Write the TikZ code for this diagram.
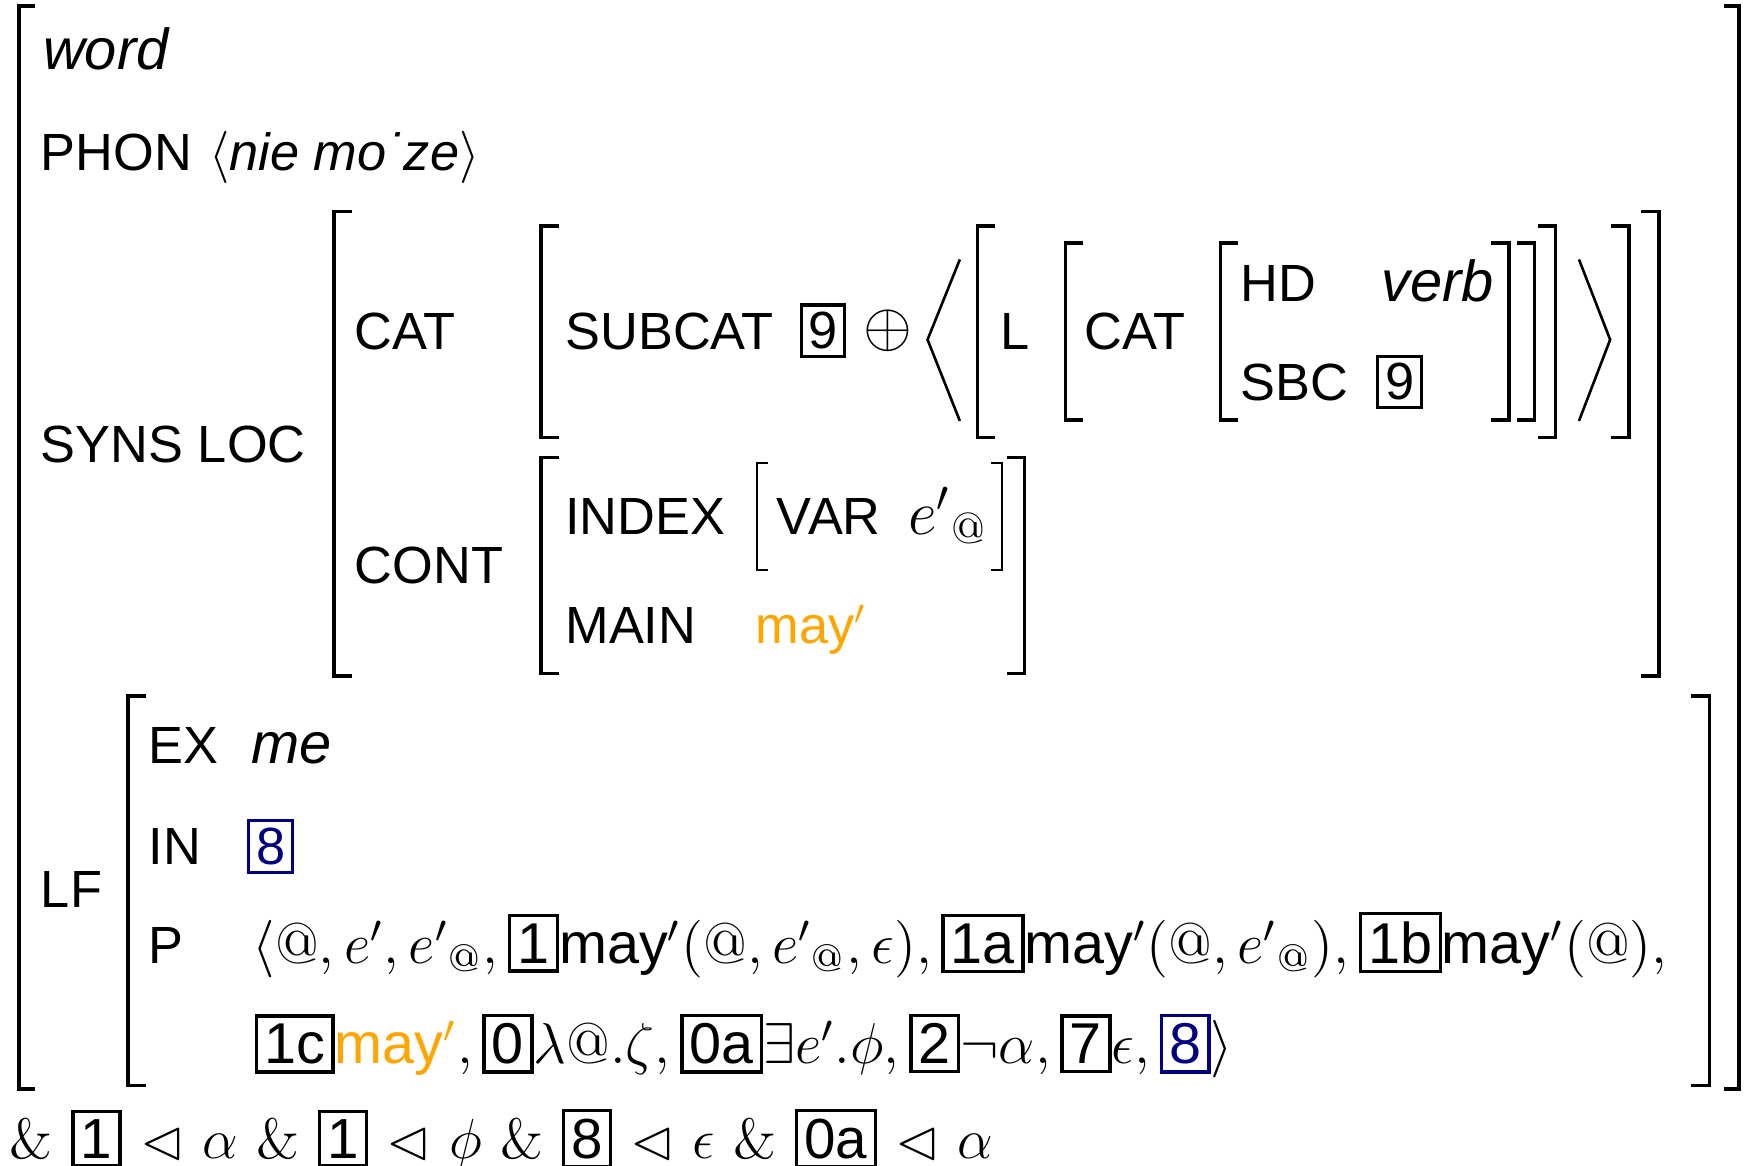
\documentclass[tikz,border=0pt]{standalone}
\usepackage{amssymb}
\usepackage{fontspec}
\setsansfont{Liberation Sans}

\definecolor{mayorange}{HTML}{FFA500}
\definecolor{tagnavy}{HTML}{000080}

% boxed structure-sharing tag
\newcommand{\tagbox}[2][black]{{\setlength{\fboxsep}{1.3pt}\setlength{\fboxrule}{0.7pt}\color{#1}\fbox{\sffamily #2}}}
\newcommand{\may}{\mbox{may}}

\begin{document}
\begin{tikzpicture}[x=0.2553pt, y=-0.2553pt,
    feat/.style={anchor=base west, inner sep=0pt, font=\sffamily\fontsize{12}{14}\selectfont},
    val/.style={anchor=base west, inner sep=0pt, font=\sffamily\itshape\fontsize{13.25}{16}\selectfont},
    form/.style={feat, scale=1.1, transform shape},
    brk/.style={line width=0.8pt},
    thinbrk/.style={line width=0.5pt}]
    \useasboundingbox (0,0) rectangle (1568,1047);
    %% Brackets
    \draw[line width=0.9pt] (31,5) -| (17,978) -- (31,978);
    \draw[line width=0.9pt] (1548,5) -| (1562,978) -- (1548,978);
    \foreach \x/\t/\b in {300/190/607, 486/203/393, 878/203/393, 957/218/377,
                          1096/218/377, 486/411/605, 115/625/975} {
        \draw[brk] (\x+16,\t) -| (\x,\b) -- (\x+16,\b);
    }
    \foreach \x/\t/\b in {1490/190/607, 1463/203/393, 1397/203/393, 1378/218/377,
                          1355/218/377, 920/411/605, 1535/625/975} {
        \draw[brk] (\x-16,\t) -| (\x,\b) -- (\x-16,\b);
    }
    \draw[thinbrk] (690,416) -| (680,512) -- (690,512);
    \draw[thinbrk] (890,416) -| (900,512) -- (890,512);
    %% Angles round the list
    \draw[line width=0.6pt] (862,233) -- (833,305) -- (862,378);
    \draw[line width=0.6pt] (1418,233) -- (1446,305) -- (1418,378);
    %% Top
    \node[val] (word) at (38,62) {word};
    \node[feat] (phon) at (36,153) {PHON};
    \node[feat] (phonval) at (187,153) {$\langle$\textit{nie mo˙ze}$\rangle$};
    %% SYNS LOC
    \node[feat] (synsloc) at (36,415) {SYNS LOC};
    \node[feat] (cat) at (318,314) {CAT};
    \node[feat] (cont) at (318,524) {CONT};
    \node[feat] (subcat) at (507,314) {SUBCAT};
    \node[feat, anchor=center] (subtag) at (739,297) {\tagbox{9}};
    \node[feat, anchor=center, font=\fontsize{14.4}{17}\selectfont] (plus) at (797,297) {$\oplus$};
    \node[feat] (l) at (898,314) {L};
    \node[feat] (lcat) at (973,314) {CAT};
    \node[feat] (hd) at (1113,271) {HD};
    \node[val] (verb) at (1240,271) {verb};
    \node[feat] (sbc) at (1113,360) {SBC};
    \node[feat, anchor=center] (sbctag) at (1257,343) {\tagbox{9}};
    \node[feat] (index) at (507,480) {INDEX};
    \node[feat] (var) at (697,480) {VAR};
    \node[feat, font=\fontsize{14.4}{17}\selectfont] (varval) at (815,480) {${e'}_{@}$};
    \node[feat] (main) at (507,578) {MAIN};
    \node[feat, text=mayorange] (mainval) at (678,578) {\may$'$};
    %% LF
    \node[feat] (lf) at (36,815) {LF};
    \node[feat] (ex) at (133,686) {EX};
    \node[val] (exval) at (225,686) {me};
    \node[feat] (infeat) at (133,776) {IN};
    \node[feat, anchor=center] (intag) at (243,760) {\tagbox[tagnavy]{8}};
    \node[feat] (p) at (133,865) {P};
    \node[form] (prow1) at (226,865) {$\langle @, e', {e'}_{@}, \tagbox{1}\may'(@, {e'}_{@}, \epsilon), \tagbox{1a}\may'(@, {e'}_{@}), \tagbox{1b}\may'(@),$};
    \node[form] (prow2) at (228,955) {$\tagbox{1c}\textcolor{mayorange}{\may'}, \tagbox{0}\lambda @.\zeta, \tagbox{0a}\exists e'.\phi, \tagbox{2}\neg\alpha, \tagbox{7}\epsilon, \tagbox[tagnavy]{8}\rangle$};
    %% Constraints
    \node[anchor=base west, inner sep=0pt, font=\fontsize{12}{14}\selectfont, scale=1.08, transform shape] (cond) at (8,1040)
        {\& \tagbox{1} $\lhd$ $\alpha$ \& \tagbox{1} $\lhd$ $\phi$ \& \tagbox{8} $\lhd$ $\epsilon$ \& \tagbox{0a} $\lhd$ $\alpha$};
\end{tikzpicture}
\end{document}
